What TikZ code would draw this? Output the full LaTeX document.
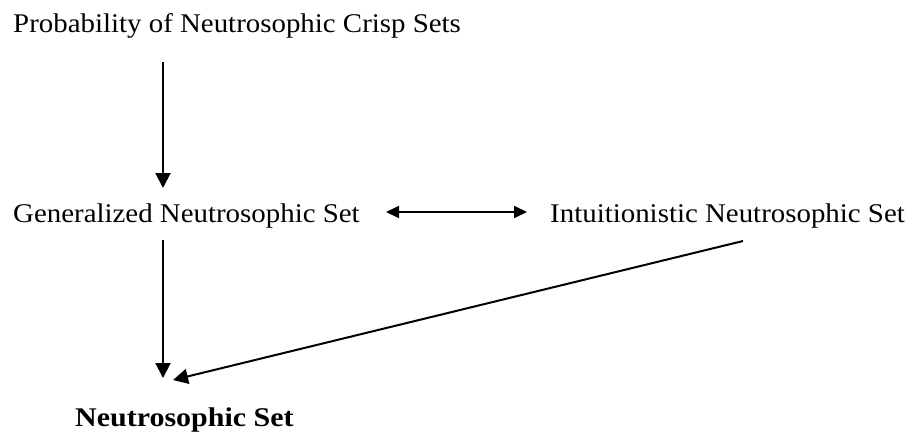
\documentclass[tikz,border=0pt]{standalone}
\usepackage{fontspec}
\setmainfont[FakeStretch=1.07]{Liberation Serif}
\newfontfamily\boldfam[FakeStretch=1.11]{Liberation Serif}
\usetikzlibrary{arrows.meta}
\tikzset{
  lbl/.style={anchor=base west, inner sep=0pt, font=\fontsize{27}{32}\selectfont},
  conn/.style={line width=2pt, -{Triangle[length=15pt,width=15pt]}},
  dconn/.style={line width=2pt, {Triangle[length=13pt,width=12pt]}-{Triangle[length=13pt,width=12pt]}}
}
\begin{document}
\begin{tikzpicture}[x=1pt,y=1pt]
\useasboundingbox (0,0) rectangle (920,-432);
\node[lbl] (p) at (13,-32) {Probability of Neutrosophic Crisp Sets};
\node[lbl] (g) at (13,-222) {Generalized Neutrosophic Set};
\node[lbl] (i) at (550,-222) {Intuitionistic Neutrosophic Set};
\node[lbl, font=\fontsize{27}{32}\boldfam\bfseries] (n) at (75,-426) {Neutrosophic Set};
\coordinate (pA) at (163,-62);
\coordinate (gB) at (163,-188);
\coordinate (gA) at (163,-240);
\coordinate (nB) at (163,-378);
\coordinate (dL) at (386,-212);
\coordinate (dR) at (527,-212);
\coordinate (iA) at (743,-241);
\coordinate (nC) at (173,-380);
\draw[conn] (pA) -- (gB);
\draw[conn] (gA) -- (nB);
\draw[dconn] (dL) -- (dR);
\draw[conn] (iA) -- (nC);
\end{tikzpicture}
\end{document}
